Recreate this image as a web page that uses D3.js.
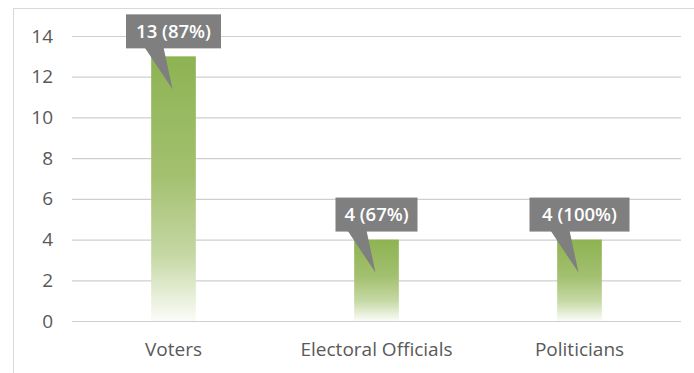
<!DOCTYPE html>
<html>
<head>
  <meta charset="UTF-8">
  <script src="https://d3js.org/d3.v7.min.js"></script>
  <style>
    body { margin: 0; background: #fff; }
    svg { display: block; font-family: "Open Sans", sans-serif; }
    .tick text { fill: #595959; font-family: "Open Sans", sans-serif; font-size: 19px; }
    .callout text { fill: #fff; font-size: 18.5px; font-weight: 600; text-anchor: middle; }
  </style>
</head>
<body>
  <svg width="694" height="373"></svg>
  <script>
    // chart data
    const categories = ["Voters", "Electoral Officials", "Politicians"];
    const counts = [13, 4, 4];
    const labels = ["13 (87%)", "4 (67%)", "4 (100%)"];
    const yTicks = [0, 2, 4, 6, 8, 10, 12, 14];

    const svg = d3.select("svg");
    const plot = { left: 72, right: 681, top: 36, bottom: 321 };

    // outer chart border
    svg.append("rect")
      .attr("x", 13.5).attr("y", 8.5)
      .attr("width", 700).attr("height", 400)
      .attr("fill", "none").attr("stroke", "#d9d9d9");

    const x = d3.scaleBand()
      .domain(categories)
      .range([plot.left, plot.right])
      .paddingInner(0.78)
      .paddingOuter(0.39);

    const y = d3.scaleLinear()
      .domain([0, 14])
      .range([plot.bottom, plot.top]);

    // gridlines + y labels
    const yAxis = svg.append("g")
      .attr("transform", `translate(${plot.left},0)`)
      .call(d3.axisLeft(y).tickValues(yTicks).tickSize(-(plot.right - plot.left)).tickPadding(19));
    yAxis.select(".domain").remove();
    yAxis.selectAll("line").attr("stroke", "#cfcfcf").attr("stroke-width", 1.2);

    // category labels
    const xAxis = svg.append("g")
      .attr("transform", `translate(0,${plot.bottom})`)
      .call(d3.axisBottom(x).tickSize(0).tickPadding(22));
    xAxis.select(".domain").remove();

    // bar gradient
    const grad = svg.append("defs").append("linearGradient")
      .attr("id", "barFill")
      .attr("x1", 0).attr("y1", 0).attr("x2", 0).attr("y2", 1);
    grad.append("stop").attr("offset", "0%").attr("stop-color", "#8db352");
    grad.append("stop").attr("offset", "45%").attr("stop-color", "#a3c06f");
    grad.append("stop").attr("offset", "75%").attr("stop-color", "#c5d8a4");
    grad.append("stop").attr("offset", "100%").attr("stop-color", "#fbfcf8");

    svg.selectAll(".bar")
      .data(counts)
      .enter()
      .append("rect")
      .attr("class", "bar")
      .attr("x", (d, i) => x(categories[i]))
      .attr("y", d => y(d))
      .attr("width", x.bandwidth())
      .attr("height", d => plot.bottom - y(d))
      .attr("fill", "url(#barFill)");

    // callouts
    const boxW = [95, 82, 100];
    const callout = svg.selectAll(".callout")
      .data(counts)
      .enter()
      .append("g")
      .attr("class", "callout");

    callout.append("path")
      .attr("d", (d, i) => {
        const cx = x(categories[i]) + x.bandwidth() / 2;
        const by = y(d) - 8;
        return `M${cx - 29},${by - 1} L${cx - 10},${by - 1} L${cx - 1},${y(d) + 33} Z`;
      })
      .attr("fill", "#7f7f7f");

    callout.append("rect")
      .attr("x", (d, i) => x(categories[i]) + x.bandwidth() / 2 - boxW[i] / 2)
      .attr("y", d => y(d) - 42)
      .attr("width", (d, i) => boxW[i])
      .attr("height", 34)
      .attr("fill", "#7f7f7f");

    callout.append("text")
      .attr("x", (d, i) => x(categories[i]) + x.bandwidth() / 2)
      .attr("y", d => y(d) - 18.5)
      .text((d, i) => labels[i]);
  </script>
</body>
</html>
